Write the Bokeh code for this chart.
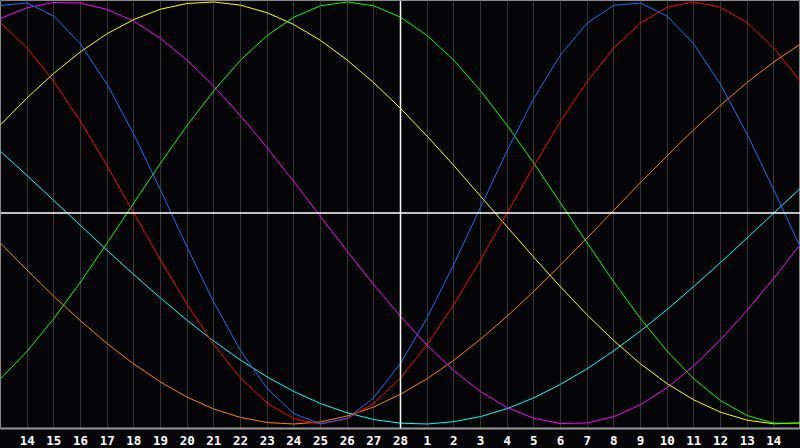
from bokeh.plotting import figure
from bokeh.models import ColumnDataSource, FixedTicker, Span, Range1d
from bokeh.embed import file_html
from bokeh.resources import INLINE

# day positions (0..30) and tick labels (shown at positions 1..29)
pos = list(range(31))
tick_pos = list(range(1, 30))
tick_labels = ["14", "15", "16", "17", "18", "19", "20", "21", "22", "23", "24", "25", "26", "27", "28",
               "1", "2", "3", "4", "5", "6", "7", "8", "9", "10", "11", "12", "13", "14"]

red = [0.901, 0.782, 0.623, 0.434, 0.223, 0.0, -0.223, -0.434, -0.623, -0.782, -0.901, -0.975, -1.0,
       -0.975, -0.901, -0.782, -0.623, -0.434, -0.223, 0.0, 0.223, 0.434, 0.623, 0.782, 0.901, 0.975,
       1.0, 0.975, 0.901, 0.782, 0.623]
blue = [0.984, 0.995, 0.933, 0.801, 0.610, 0.373, 0.109, -0.163, -0.423, -0.652, -0.832, -0.951, -0.999,
        -0.973, -0.875, -0.712, -0.496, -0.243, 0.027, 0.296, 0.543, 0.749, 0.900, 0.984, 0.995, 0.933,
        0.801, 0.610, 0.373, 0.109, -0.163]
green = [-0.786, -0.655, -0.500, -0.327, -0.142, 0.048, 0.236, 0.415, 0.580, 0.724, 0.841, 0.928, 0.982,
         1.0, 0.982, 0.928, 0.841, 0.724, 0.580, 0.415, 0.236, 0.048, -0.142, -0.327, -0.500, -0.655,
         -0.786, -0.889, -0.960, -0.996, -0.996]
yellow = [0.418, 0.546, 0.662, 0.764, 0.850, 0.917, 0.966, 0.993, 1.0, 0.985, 0.949, 0.893, 0.818, 0.725,
          0.617, 0.496, 0.364, 0.225, 0.080, -0.066, -0.210, -0.350, -0.483, -0.605, -0.715, -0.809,
          -0.886, -0.944, -0.982, -0.999, -0.995]
magenta = [0.922, 0.973, 0.998, 0.995, 0.965, 0.909, 0.828, 0.724, 0.601, 0.461, 0.309, 0.148, -0.017,
           -0.181, -0.340, -0.490, -0.627, -0.747, -0.846, -0.922, -0.973, -0.998, -0.995, -0.965,
           -0.909, -0.828, -0.724, -0.601, -0.461, -0.309, -0.148]
cyan = [0.292, 0.177, 0.059, -0.059, -0.177, -0.292, -0.403, -0.509, -0.607, -0.697, -0.777, -0.846,
        -0.903, -0.947, -0.979, -0.996, -1.0, -0.989, -0.965, -0.927, -0.876, -0.812, -0.738, -0.653,
        -0.559, -0.457, -0.348, -0.235, -0.118, 0.0, 0.118]
orange = [-0.143, -0.271, -0.395, -0.511, -0.619, -0.716, -0.801, -0.873, -0.929, -0.969, -0.993, -1.0,
          -0.990, -0.962, -0.919, -0.859, -0.785, -0.698, -0.598, -0.489, -0.371, -0.246, -0.118, 0.013,
          0.144, 0.271, 0.395, 0.511, 0.619, 0.716, 0.801]

series = [
    (cyan, "#00ffff"),
    (orange, "#ff8000"),
    (magenta, "#ff00ff"),
    (yellow, "#ffff00"),
    (green, "#00ff00"),
    (red, "#ff0000"),
    (blue, "#1a6cff"),
]

p = figure(width=800, height=448, output_backend="svg", toolbar_location=None,
           x_range=Range1d(0, 30), y_range=Range1d(-1.0213, 1.0071),
           min_border_left=0, min_border_right=0, min_border_top=0, min_border_bottom=20)
p.background_fill_color = "#050508"
p.border_fill_color = "#050508"
p.outline_line_color = "#8a8a8a"
p.outline_line_width = 1

p.yaxis.visible = False
p.ygrid.visible = False

p.xaxis.ticker = FixedTicker(ticks=tick_pos)
p.xaxis.major_label_overrides = {t: s for t, s in zip(tick_pos, tick_labels)}
p.xaxis.major_tick_line_color = None
p.xaxis.minor_tick_line_color = None
p.xaxis.axis_line_color = "#9a9a9a"
p.xaxis.axis_line_width = 2
p.xaxis.major_label_text_color = "#ffffff"
p.xaxis.major_label_text_font = "DejaVu Sans Mono"
p.xaxis.major_label_text_font_style = "bold"
p.xaxis.major_label_text_font_size = "12.5px"
p.xaxis.major_label_standoff = 1

p.xgrid.ticker = FixedTicker(ticks=tick_pos)
p.xgrid.grid_line_color = "#363636"
p.xgrid.grid_line_width = 1

p.add_layout(Span(location=15, dimension="height", line_color="#ffffff", line_width=1.5))
p.add_layout(Span(location=0, dimension="width", line_color="#ffffff", line_width=1.5))

for vals, col in series:
    src = ColumnDataSource(dict(x=pos, y=vals))
    p.line("x", "y", source=src, line_color=col, line_width=1)

tmpl = """{% block postamble %}<style>html,body{margin:0 !important;padding:0;background:#050508;overflow:hidden;}</style>{% endblock %}"""

open("out.html", "w").write(file_html(p, INLINE, template=tmpl))
